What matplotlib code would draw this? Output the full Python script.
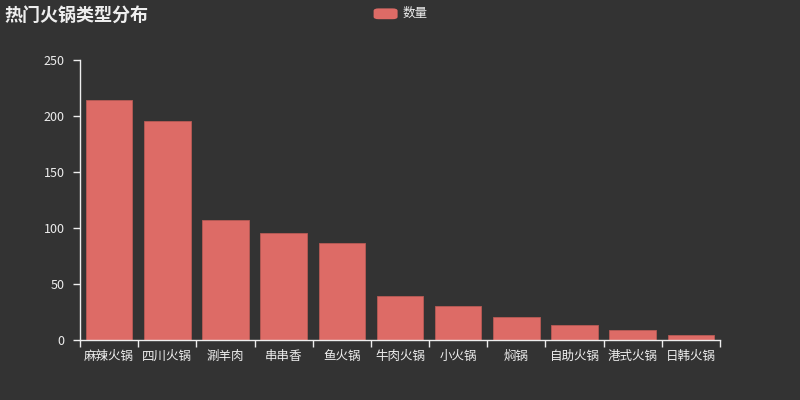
import matplotlib
matplotlib.use('Agg')
import matplotlib.pyplot as plt
from matplotlib.patches import FancyBboxPatch

plt.rcParams['font.family'] = ['Noto Sans CJK SC', 'DejaVu Sans']

# data
categories = ['麻辣火锅', '四川火锅', '涮羊肉', '串串香', '鱼火锅', '牛肉火锅',
              '小火锅', '焖锅', '自助火锅', '港式火锅', '日韩火锅']
counts = [214, 196, 107, 96, 87, 40, 31, 21, 14, 9, 5]

bg = '#333333'
bar_color = '#dd6b66'
text_color = '#eeeeee'

fig = plt.figure(figsize=(8, 4), dpi=100, facecolor=bg)
ax = fig.add_axes([0.1, 0.149, 0.8, 0.701])
ax.set_facecolor(bg)

x = range(len(categories))
ax.bar(x, counts, width=0.8, color=bar_color, edgecolor='#b85a55', linewidth=0.6)

ax.set_xlim(-0.5, len(categories) - 0.5)
ax.set_ylim(0, 250)
ax.set_yticks([0, 50, 100, 150, 200, 250])

# category labels centred, ticks on the boundaries
ax.set_xticks(list(x))
ax.set_xticklabels(categories)
ax.set_xticks([i - 0.5 for i in range(len(categories) + 1)], minor=True)
ax.tick_params(axis='x', which='major', length=0, pad=7, labelsize=9, labelcolor=text_color)
ax.tick_params(axis='x', which='minor', length=5, color=text_color, width=1)
ax.tick_params(axis='y', length=5, color=text_color, width=1, labelsize=9,
               labelcolor=text_color, pad=6)

for s in ['top', 'right']:
    ax.spines[s].set_visible(False)
for s in ['left', 'bottom']:
    ax.spines[s].set_color(text_color)
    ax.spines[s].set_linewidth(1)

fig.text(0.006, 0.962, '热门火锅类型分布', color=text_color, fontsize=13,
         fontweight='bold', va='center', ha='left')

# legend like the echarts one: rounded swatch + label
sw = FancyBboxPatch((0.467, 0.952), 0.03, 0.027, boxstyle='round,pad=0,rounding_size=0.006',
                    transform=fig.transFigure, facecolor=bar_color, edgecolor='none')
fig.patches.append(sw)
fig.text(0.503, 0.966, '数量', color=text_color, fontsize=9, va='center', ha='left')

fig.savefig('out.png', dpi=100, facecolor=bg)
